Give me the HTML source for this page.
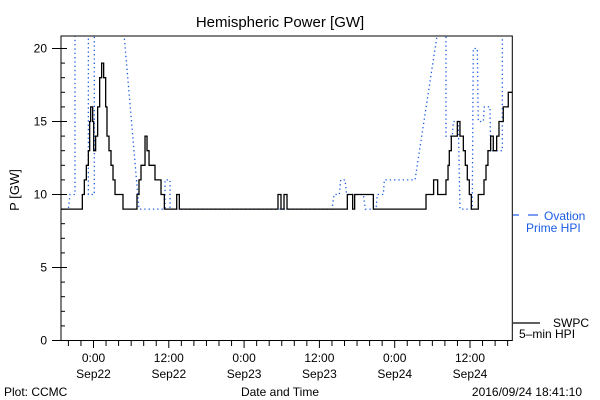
<!DOCTYPE html>
<html><head><meta charset="utf-8"><style>
html,body{margin:0;padding:0;background:#fff;}
svg{display:block;font-family:"Liberation Sans",sans-serif;}
</style></head><body>
<svg id="chart" width="600" height="400" viewBox="0 0 600 400" xmlns="http://www.w3.org/2000/svg">
<rect width="600" height="400" fill="#fff"/>
<text x="280" y="27" text-anchor="middle" font-size="15">Hemispheric Power [GW]</text>
<text transform="translate(19,190) rotate(-90)" text-anchor="middle" font-size="13">P [GW]</text>
<text x="280" y="396" text-anchor="middle" font-size="12">Date and Time</text>
<text x="4" y="396" font-size="12">Plot: CCMC</text>
<text x="582" y="396" text-anchor="end" font-size="12">2016/09/24 18:41:10</text>
<g id="axes"></g>
<defs><clipPath id="clip"><rect x="61" y="36" width="451.3" height="305"/></clipPath></defs>
<g clip-path="url(#clip)">
<polyline id="ovation" fill="none" stroke="#1a5ce6" stroke-width="1.3" stroke-dasharray="1.3,3"/>
<polyline id="swpc" fill="none" stroke="#000" stroke-width="1.3"/>
</g>
<rect x="61" y="36" width="451.3" height="304.5" fill="none" stroke="#000" stroke-width="1"/>
<g>
<line x1="513" y1="215" x2="519" y2="215" stroke="#1a5ce6" stroke-width="1.2"/>
<line x1="528" y1="215" x2="538" y2="215" stroke="#1a5ce6" stroke-width="1.2"/>
<text x="544" y="220" font-size="12" fill="#1a5ce6">Ovation</text>
<text x="526" y="232" font-size="12" fill="#1a5ce6">Prime HPI</text>
</g>
<g>
<line x1="513" y1="323" x2="540" y2="323" stroke="#000" stroke-width="1.2"/>
<text x="553" y="327" font-size="12">SWPC</text>
<text x="519" y="338" font-size="12">5–min HPI</text>
</g>
</svg>
<script>
const yTicks=[0,5,10,15,20];
const xTickHours=[0,12,24,36,48,60];
const xTickTimes=["0:00","12:00","0:00","12:00","0:00","12:00"];
const xTickDates=["Sep22","Sep22","Sep23","Sep23","Sep24","Sep24"];
const swpcTimes=[-5.2,-1.78,-1.46,-1.14,-0.82,-0.61,-0.45,-0.13,0.03,0.34,0.66,0.98,1.3,1.62,1.94,2.15,2.47,2.79,3.11,3.43,4.7,6.93,7.25,7.57,8.21,8.53,8.85,9.8,10.76,11.29,13.26,13.68,29.4,29.88,30.36,30.84,40.45,41.3,41.62,44.6,52.99,54.2,54.85,56.17,56.5,56.7,57.02,57.98,58.4,58.94,59.25,59.57,59.89,60.21,61.32,62.23,62.55,62.86,63.29,63.71,64.25,64.62,65.3,66.1,66.37];
const swpcValues=[9,10,11,12,13,15,16,15,13,14,16,18,19,18,16,14,13,12,11,10,9,10,11,12,14,13,12,11,10,9,10,9,10,9,10,9,10,9,10,9,10,11,10,11,12,13,14,15,14,13,12,11,10,9,10,11,12,13,14,13,14,15,16,17,17];
const ovTimes=[-5.2,-4.0,-3.75,-2.95,-2.95,-0.82,-0.82,0.13,0.13,4.86,7.25,11.4,11.4,12.2,12.2,38.01,38.33,39.18,39.39,40.08,40.35,43.0,43.32,45.02,45.23,46.19,46.35,51.24,54.79,55.5,56.17,56.17,57.18,57.34,58.13,58.4,60.36,60.52,61.16,61.32,62.12,62.28,63.18,63.3,65.15,65.15];
const ovValues=[9,9,10,10,30,30,10,10,30,21,9,9,11,11,9,9,10,10,11,11,10,10,9,9,10,10,11,11,21,30,30,14,14,15,15,9,9,20,20,15,15,16,16,13,13,30];
const X0=93.5,XS=6.275,Y0=340.5,YS=14.6,XL=61,XR=512.3;
function xs(h){return X0+h*XS;}
function ys(v){return Y0-v*YS;}
const NS="http://www.w3.org/2000/svg";
const axes=document.getElementById('axes');
function mk(tag,attrs){const e=document.createElementNS(NS,tag);for(const k in attrs)e.setAttribute(k,attrs[k]);axes.appendChild(e);return e;}
for(let v=0;v<=20;v++){const y=ys(v);const major=v%5===0;
 const t=mk('line',{x1:major?52:61,y1:y,x2:major?67:65,y2:y,stroke:'#000','stroke-width':1});
 
 }
yTicks.forEach(v=>{const t=mk('text',{x:47,y:ys(v)+4,'text-anchor':'end','font-size':12});t.textContent=v;
 
 });
for(let h=-4;h<=66;h+=2){const x=xs(h);if(x<XL||x>XR)continue;const major=h%12===0;
 const t=mk('line',{x1:x,y1:340.5,x2:x,y2:major?348:346,stroke:'#000','stroke-width':1});
 
 }
xTickHours.forEach((h,i)=>{
 const a=mk('text',{x:xs(h),y:362,'text-anchor':'middle','font-size':12});a.textContent=xTickTimes[i];
 
 
 const b=mk('text',{x:xs(h),y:378,'text-anchor':'middle','font-size':12});b.textContent=xTickDates[i];
 
 });
let p=[];for(let i=0;i<swpcTimes.length;i++){const x=xs(swpcTimes[i]);const nx=i+1<swpcTimes.length?xs(swpcTimes[i+1]):XR;
 p.push(x+','+ys(swpcValues[i]));p.push(nx+','+ys(swpcValues[i]));}
document.getElementById('swpc').setAttribute('points',p.join(' '));
document.getElementById('ovation').setAttribute('points',ovTimes.map((t,i)=>xs(t)+','+ys(ovValues[i])).join(' '));
</script>
</body></html>
